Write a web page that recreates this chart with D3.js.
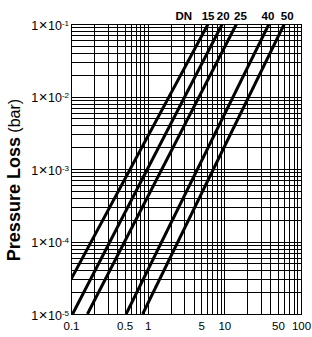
<!DOCTYPE html>
<meta charset="utf-8">
<style>
body { margin: 0; background: #fff; overflow: hidden; }
text { font-family: "Liberation Sans", Arial, sans-serif; fill: #000; }
.grid line { stroke: #000; stroke-width: 1; shape-rendering: crispEdges; }
.grid path, .labels path { display: none; }
.curve { fill: none; stroke: #000; stroke-width: 3; }
</style>
<svg id="chart" width="312" height="337"></svg>
<script src="https://d3js.org/d3.v7.min.js"></script>
<script>

// valve sizes and two points (flow, pressure loss)
var sizes  = ["15", "20", "25", "40", "50"];
var flowLo = [0.1, 0.105, 0.164, 0.524, 0.861];
var lossLo = [3e-5, 1e-5, 1e-5, 1e-5, 1e-5];
var flowHi = [6.14, 9.4, 14.4, 38.2, 60.5];
var lossHi = [0.1, 0.1, 0.1, 0.1, 0.1];

var xTicks = [0.1, 0.5, 1, 5, 10, 50, 100];
var yTicks = [1e-5, 1e-4, 1e-3, 1e-2, 1e-1];

var svg = d3.select("#chart");
var mLeft = 71, mRight = 301, mTop = 24, mBottom = 314;

var x = d3.scaleLog().domain([0.1, 100]).range([mLeft, mRight]);
var y = d3.scaleLog().domain([1e-5, 1e-1]).range([mBottom, mTop]);

// grid, every 1..9 in each decade
svg.append("g")
    .attr("class", "grid")
    .attr("transform", "translate(0," + mBottom + ")")
    .call(d3.axisBottom(x).tickValues(x.ticks()).tickSize(-(mBottom - mTop)).tickFormat(""));

svg.append("g")
    .attr("class", "grid")
    .attr("transform", "translate(" + mLeft + ",0)")
    .call(d3.axisLeft(y).tickValues(y.ticks()).tickSize(-(mRight - mLeft)).tickFormat(""));

svg.append("rect")
    .attr("x", mLeft + 0.5).attr("y", mTop + 0.5)
    .attr("width", mRight - mLeft).attr("height", mBottom - mTop)
    .attr("fill", "none").attr("stroke", "#000");

// lines
svg.append("clipPath").attr("id", "plot")
  .append("rect")
    .attr("x", mLeft).attr("y", mTop)
    .attr("width", mRight - mLeft).attr("height", mBottom - mTop);

var line = d3.line()
    .x(function(d) { return x(d[0]); })
    .y(function(d) { return y(d[1]); });

svg.append("g")
    .attr("clip-path", "url(#plot)")
  .selectAll("path")
  .data(sizes)
  .enter().append("path")
    .attr("class", "curve")
    .attr("d", function(d, i) {
      return line([[flowLo[i], lossLo[i]], [flowHi[i], lossHi[i]]]);
    });

// axis labels
var xl = svg.append("g")
    .attr("class", "labels")
    .attr("transform", "translate(0," + mBottom + ")")
    .call(d3.axisBottom(x).tickValues(xTicks).tickSize(0).tickPadding(8)
      .tickFormat(function(d) { return String(d); }));
xl.selectAll("text").attr("font-size", 11.5).attr("fill", "#000");

var yl = svg.append("g")
    .attr("class", "labels")
    .attr("transform", "translate(" + mLeft + ",0)")
    .call(d3.axisLeft(y).tickValues(yTicks).tickSize(0).tickPadding(2));
yl.selectAll("text")
    .attr("font-size", 12.5)
    .attr("fill", "#000")
    .attr("dy", "0.4em")
    .each(function(d) {
      var t = d3.select(this).text("");
      t.append("tspan").text("1");
      t.append("tspan").attr("font-size", 15).attr("dx", 0.5).text("\u00d7");
      t.append("tspan").attr("dx", 0.5).text("10");
      t.append("tspan")
        .attr("dy", "-0.45em")
        .attr("font-size", 8)
        .text("-" + Math.round(-Math.log10(d)));
    });

// title
var title = svg.append("text")
    .attr("transform", "rotate(-90)")
    .attr("x", -180)
    .attr("y", 20)
    .attr("text-anchor", "middle")
    .attr("font-size", 18);
title.append("tspan").attr("font-weight", "bold").text("Pressure Loss");
title.append("tspan").attr("font-size", 16).text(" (bar)");

// DN labels above line ends (small nudges so they don't crowd)
var labelNudge = [0, 1, 4, -1, 3];
svg.append("g")
  .selectAll("text")
  .data(sizes)
  .enter().append("text")
    .attr("x", function(d, i) { return x(flowHi[i]) + labelNudge[i]; })
    .attr("y", 20)
    .attr("text-anchor", "middle")
    .attr("font-size", 11.5)
    .attr("font-weight", "bold")
    .text(function(d) { return d; });

svg.append("text")
    .attr("x", x(flowHi[0]) - 16)
    .attr("y", 20)
    .attr("text-anchor", "end")
    .attr("font-size", 11.5)
    .attr("font-weight", "bold")
    .text("DN");

</script>
